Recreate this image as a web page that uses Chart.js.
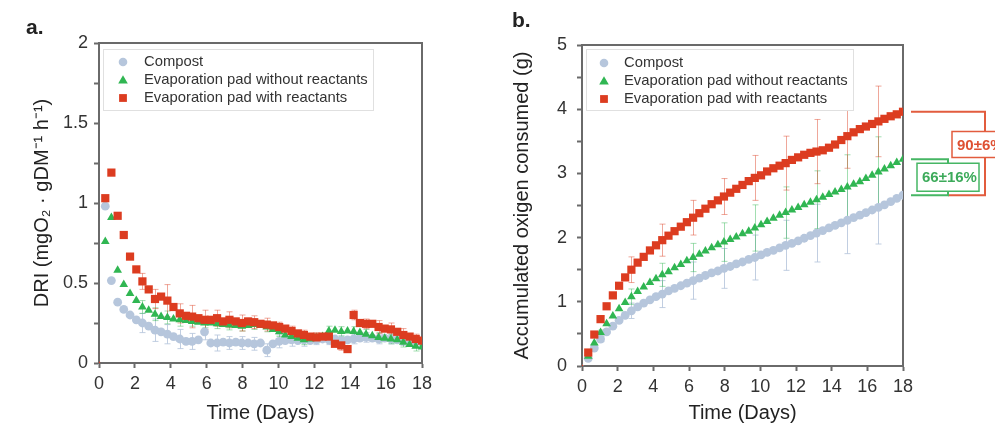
<!DOCTYPE html>
<html><head><meta charset="utf-8">
<script src="https://cdn.jsdelivr.net/npm/chart.js@4/dist/chart.umd.min.js"></script>
<style>
html,body{margin:0;padding:0;background:#fff;}
#wrap{position:relative;width:995px;height:432px;overflow:hidden;background:#fff;}
#ca{position:absolute;left:0;top:0;}
#cb{position:absolute;left:480px;top:0;}
.lab{position:absolute;font:bold 21px 'Liberation Sans',Arial,sans-serif;color:#222;line-height:24px;}
</style></head><body>
<div id="wrap">
<canvas id="ca" width="470" height="432"></canvas>
<canvas id="cb" width="515" height="432"></canvas>
<div class="lab" style="left:26px;top:15px">a.</div>
<div class="lab" style="left:512px;top:8px">b.</div>
</div>
<script>
// ---------------- DATA ----------------
const seriesNames = ['Compost', 'Evaporation pad without reactants', 'Evaporation pad with reactants'];
const days = [0,0.35,0.69,1.04,1.38,1.73,2.08,2.42,2.77,3.12,3.46,3.81,4.15,4.5,4.85,5.19,5.54,5.88,6.23,6.58,6.92,7.27,7.62,7.96,8.31,8.65,9.0,9.35,9.69,10.04,10.38,10.73,11.08,11.42,11.77,12.12,12.46,12.81,13.15,13.5,13.85,14.19,14.54,14.88,15.23,15.58,15.92,16.27,16.62,16.96,17.31,17.65,18.0];

// Panel a: DRI
const driCompost = [null,0.98,0.515,0.38,0.335,0.30,0.27,0.25,0.23,0.205,
  0.195,0.18,0.165,0.15,0.135,0.135,0.145,0.195,0.125,0.125,
  0.13,0.125,0.13,0.125,0.125,0.12,0.125,0.08,0.12,0.135,
  0.14,0.145,0.14,0.145,0.14,0.145,0.15,0.145,0.15,0.14,
  0.145,0.15,0.155,0.16,0.155,0.15,0.155,0.15,0.145,0.14,
  0.14,0.135,0.13];
const driGreen = [null,0.76,0.91,0.58,0.49,0.435,0.39,0.35,0.33,0.305,
  0.29,0.285,0.275,0.27,0.265,0.26,0.255,0.25,0.25,0.245,
  0.24,0.237,0.235,0.23,0.235,0.24,0.235,0.225,0.21,0.195,
  0.175,0.165,0.155,0.145,0.15,0.155,0.165,0.20,0.205,0.197,
  0.20,0.197,0.19,0.18,0.17,0.16,0.155,0.15,0.145,0.13,
  0.115,0.105,0.10];
const driRed = [0,1.03,1.19,0.92,0.80,0.665,0.585,0.51,0.46,0.40,
  0.415,0.39,0.35,0.31,0.295,0.29,0.28,0.27,0.27,0.28,
  0.26,0.27,0.26,0.25,0.26,0.255,0.245,0.24,0.235,0.225,
  0.215,0.20,0.185,0.175,0.165,0.16,0.165,0.165,0.12,0.11,
  0.087,0.30,0.25,0.245,0.245,0.225,0.215,0.21,0.195,0.175,
  0.165,0.15,0.14];
const errDaysA = [2.42,3.12,3.81,4.5,5.19,5.88,6.58,7.27,7.96,8.65,9.35,10.04,10.73,11.42,12.12,12.81,13.5,14.19,14.88,15.58,16.27,16.96,17.65];
const errACompost = [0.06,0.07,0.06,0.06,0.05,0.05,0.05,0.04,0.04,0.04,0.04,0.04,0.04,0.04,0.03,0.03,0.03,0.03,0.03,0.03,0.03,0.03,0.03];
const errAGreen = [0.04,0.04,0.04,0.04,0.03,0.03,0.03,0.03,0.03,0.03,0.03,0.03,0.03,0.03,0.03,0.03,0.03,0.03,0.03,0.03,0.03,0.03,0.03];
const errARed = [0.05,0.06,0.10,0.06,0.07,0.06,0.05,0.05,0.05,0.04,0.04,0.03,0.03,0.03,0.03,0.03,0.03,0.03,0.03,0.04,0.04,0.04,0.03];

// Panel b: accumulated oxygen
const accCompost = [0,0.12,0.28,0.42,0.53,0.62,0.71,0.79,0.86,0.92,
  0.98,1.03,1.08,1.12,1.17,1.21,1.25,1.29,1.33,1.37,
  1.41,1.45,1.48,1.52,1.55,1.59,1.62,1.66,1.69,1.73,
  1.77,1.80,1.84,1.88,1.91,1.95,1.99,2.03,2.07,2.11,
  2.15,2.19,2.23,2.27,2.31,2.35,2.39,2.43,2.47,2.51,
  2.56,2.61,2.66];
const accGreen = [0,0.15,0.36,0.52,0.66,0.78,0.89,0.99,1.08,1.16,
  1.23,1.30,1.36,1.42,1.47,1.53,1.58,1.64,1.69,1.74,
  1.79,1.84,1.89,1.93,1.97,2.01,2.06,2.10,2.15,2.20,
  2.25,2.30,2.35,2.39,2.43,2.47,2.51,2.55,2.59,2.63,
  2.67,2.71,2.75,2.79,2.83,2.87,2.92,2.97,3.02,3.07,
  3.12,3.17,3.22];
const accRed = [0,0.21,0.49,0.73,0.93,1.10,1.25,1.38,1.50,1.61,
  1.70,1.80,1.88,1.96,2.03,2.10,2.17,2.24,2.31,2.38,
  2.45,2.52,2.58,2.64,2.70,2.76,2.82,2.88,2.93,2.97,
  3.03,3.08,3.12,3.16,3.21,3.25,3.29,3.32,3.34,3.36,
  3.40,3.45,3.52,3.58,3.64,3.69,3.73,3.77,3.81,3.85,
  3.89,3.92,3.96];
const errDaysB = [1.04,2.77,4.5,6.23,7.96,9.69,11.42,13.15,14.88,16.62];
const errBCompost = [0.04,0.12,0.21,0.29,0.31,0.35,0.39,0.45,0.52,0.57];
const errBGreen = [0.04,0.12,0.18,0.22,0.30,0.36,0.40,0.45,0.50,0.55];
const errBRed = [0.05,0.20,0.25,0.27,0.28,0.35,0.42,0.50,0.50,0.55];
const increaseLabels = ['66±16%', '90±6%'];

const xTicksA = [0,2,4,6,8,10,12,14,16,18];

// ---------------- STYLE ----------------
const FONT = "'Liberation Sans', Arial, sans-serif";
Chart.defaults.font.family = FONT;
const C_COMP = 'rgb(182,198,220)', C_GREEN = 'rgb(48,182,82)', C_RED = 'rgb(220,60,32)';
const E_COMP = 'rgba(182,198,220,0.85)', E_GREEN = 'rgba(48,182,82,0.45)', E_RED = 'rgba(220,60,32,0.45)';

function pts(arr){ return days.map((d,i)=>({x:d, y:arr[i]})); }
function rad(r){ return ctx => (ctx.raw && ctx.raw.y === 0) ? 1.6 : r; }
function makeDatasets(c,g,r){
  return [
    {label:seriesNames[0], data:pts(c), pointStyle:'circle', pointRadius:rad(4.4), backgroundColor:C_COMP, borderColor:C_COMP, pointBorderWidth:0, showLine:false, order:3},
    {label:seriesNames[1], data:pts(g), pointStyle:'triangle', pointRadius:rad(5), backgroundColor:C_GREEN, borderColor:C_GREEN, pointBorderWidth:0, showLine:false, order:2},
    {label:seriesNames[2], data:pts(r), pointStyle:'rect', pointRadius:rad(5.8), backgroundColor:C_RED, borderColor:C_RED, pointBorderWidth:0, showLine:false, order:1}
  ];
}

function drawMarker(ctx, style, x, y, color){
  ctx.fillStyle = color; ctx.beginPath();
  if(style==='circle'){ ctx.arc(x,y,4.3,0,Math.PI*2); }
  else if(style==='triangle'){ ctx.moveTo(x,y-4.8); ctx.lineTo(x-4.8,y+3.4); ctx.lineTo(x+4.8,y+3.4); ctx.closePath(); }
  else { ctx.rect(x-3.9,y-3.9,7.8,7.8); }
  ctx.fill();
}

const framePlugin = {id:'frame', beforeDatasetsDraw(c){
  const a=c.chartArea, ctx=c.ctx; ctx.save(); ctx.strokeStyle='#6a6a6a'; ctx.lineWidth=2;
  ctx.strokeRect(a.left,a.top,a.right-a.left,a.bottom-a.top); ctx.restore(); }};

function legendPlugin(L){ return {id:'boxLegend', afterDatasetsDraw(c){
  const a=c.chartArea, ctx=c.ctx; ctx.save();
  const X=a.left+L.dx, Y=a.top+L.dy;
  ctx.fillStyle='#fff'; ctx.fillRect(X,Y,L.w,L.h);
  ctx.strokeStyle='#e0e0e0'; ctx.lineWidth=1; ctx.strokeRect(X+0.5,Y+0.5,L.w,L.h);
  c.data.datasets.forEach((ds,i)=>{
    const y=Y+L.row0+i*L.rowH;
    drawMarker(ctx, ds.pointStyle, X+L.mx, y, ds.backgroundColor);
    ctx.fillStyle='#333'; ctx.font='14.8px '+FONT; ctx.textBaseline='middle'; ctx.textAlign='left';
    ctx.fillText(ds.label, X+L.tx, y);
  });
  ctx.restore(); }}; }

function errPlugin(errDays, sets){ return {id:'errBars', beforeDatasetsDraw(c){
  const ctx=c.ctx, xs=c.scales.x, ys=c.scales.y; ctx.save(); ctx.lineWidth=1;
  sets.forEach(s=>{
    const ds=c.data.datasets[s.ds]; ctx.strokeStyle=s.color;
    errDays.forEach((d,j)=>{
      const i=days.indexOf(d); const pt=ds.data[i]; const e=s.err[j];
      if(!pt||pt.y==null||e==null) return;
      const px=Math.round(xs.getPixelForValue(d))+0.5, y1=ys.getPixelForValue(pt.y+e), y2=ys.getPixelForValue(pt.y-e);
      ctx.beginPath(); ctx.moveTo(px,y1); ctx.lineTo(px,y2);
      ctx.moveTo(px-3,y1); ctx.lineTo(px+3,y1); ctx.moveTo(px-3,y2); ctx.lineTo(px+3,y2); ctx.stroke();
    });
  });
  ctx.restore(); }}; }

const bracketPlugin = {id:'brackets', afterDraw(c){
  const ctx=c.ctx, ys=c.scales.y, a=c.chartArea, d=c.data.datasets;
  const last = k => d[k].data[d[k].data.length-1].y;
  const yC=ys.getPixelForValue(last(0)), yG=ys.getPixelForValue(last(1)), yR=ys.getPixelForValue(last(2));
  const x0=a.right+8, xm=a.right+45, x1=a.right+82;
  ctx.save(); ctx.lineWidth=2;
  ctx.strokeStyle='rgb(226,92,62)';
  ctx.beginPath(); ctx.moveTo(x0,yR); ctx.lineTo(x1,yR); ctx.lineTo(x1,yC); ctx.lineTo(xm,yC); ctx.stroke();
  ctx.strokeStyle='rgb(70,182,100)';
  ctx.beginPath(); ctx.moveTo(x0,yG); ctx.lineTo(xm,yG); ctx.lineTo(xm,yC); ctx.lineTo(x0,yC); ctx.stroke();
  ctx.font='bold 15px '+FONT; ctx.textBaseline='middle'; ctx.textAlign='left';
  const rc=(yR+yC)/2-9;
  ctx.fillStyle='#fff'; ctx.fillRect(xm+4,rc-13,60,26);
  ctx.strokeStyle='rgb(226,92,62)'; ctx.lineWidth=1.5; ctx.strokeRect(xm+4,rc-13,60,26);
  ctx.fillStyle='rgb(222,80,50)'; ctx.fillText(increaseLabels[1], xm+9, rc+1);
  const gc=(yG+yC)/2;
  ctx.fillStyle='#fff'; ctx.fillRect(x0+6,gc-14,62,28);
  ctx.strokeStyle='rgb(70,182,100)'; ctx.strokeRect(x0+6,gc-14,62,28);
  ctx.fillStyle='rgb(60,170,90)'; ctx.fillText(increaseLabels[0], x0+11, gc+1);
  ctx.restore(); }};

function xScale(h){ return {
  type:'linear', min:0, max:18,
  afterBuildTicks(s){ s.ticks = xTicksA.map(v=>({value:v})); },
  ticks:{font:{size:18}, color:'#333', padding:5, maxRotation:0, autoSkip:false},
  grid:{drawOnChartArea:false, drawTicks:true, tickLength:5, tickWidth:2, tickColor:'#6a6a6a'},
  border:{display:true, color:'#6a6a6a', width:2},
  title:{display:true, text:'Time (Days)', font:{size:20}, color:'#222', padding:{top:0,bottom:7}},
  afterFit(s){ s.height=h; }
}; }
function yScale(max, step, labelStep, title, w, pad){ return {
  type:'linear', min:0, max:max,
  ticks:{stepSize:step, font:{size:18}, color:'#333', padding:pad,
    callback:v => (Math.abs(v/labelStep - Math.round(v/labelStep))<1e-6) ? String(v) : ''},
  grid:{drawOnChartArea:false, drawTicks:true, tickLength:5, tickWidth:2, tickColor:'#6a6a6a'},
  border:{display:true, color:'#6a6a6a', width:2},
  title:{display:true, text:title, font:{size:20}, color:'#222', padding:{top:30,bottom:0}},
  afterFit(s){ s.width=w; }
}; }

new Chart(document.getElementById('ca'), {
  type:'scatter',
  data:{datasets:makeDatasets(driCompost, driGreen, driRed)},
  options:{
    responsive:false, animation:false, events:[],
    layout:{padding:{left:0, top:43, right:48, bottom:0}},
    scales:{x:xScale(69), y:yScale(2, 0.25, 0.5, 'DRI (mgO\u2082 \u00b7 gDM\u207b\u00b9 h\u207b\u00b9)', 99, 6)},
    plugins:{legend:{display:false}, tooltip:{enabled:false}}
  },
  plugins:[framePlugin,
    errPlugin(errDaysA, [{ds:0,err:errACompost,color:E_COMP},{ds:1,err:errAGreen,color:E_GREEN},{ds:2,err:errARed,color:E_RED}]),
    legendPlugin({dx:4, dy:6, w:270, h:61, row0:13, rowH:18, mx:20, tx:41})]
});

new Chart(document.getElementById('cb'), {
  type:'scatter',
  data:{datasets:makeDatasets(accCompost, accGreen, accRed)},
  options:{
    responsive:false, animation:false, events:[],
    layout:{padding:{left:0, top:45, right:92, bottom:0}},
    scales:{x:xScale(66), y:yScale(5, 0.5, 1, 'Accumulated oxigen consumed (g)', 102, 10)},
    plugins:{legend:{display:false}, tooltip:{enabled:false}}
  },
  plugins:[framePlugin,
    errPlugin(errDaysB, [{ds:0,err:errBCompost,color:E_COMP},{ds:1,err:errBGreen,color:E_GREEN},{ds:2,err:errBRed,color:E_RED}]),
    legendPlugin({dx:4, dy:4, w:267, h:61, row0:14, rowH:18, mx:18, tx:38}),
    bracketPlugin]
});
</script>
</body></html>
